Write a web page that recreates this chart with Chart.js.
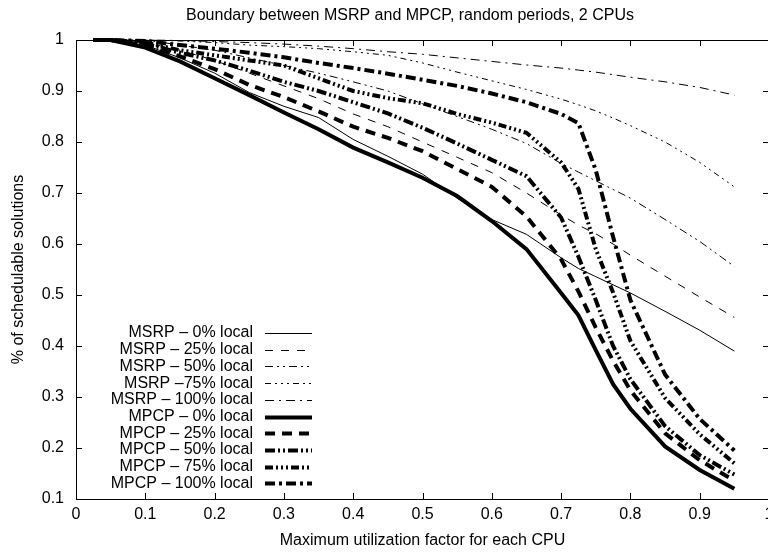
<!DOCTYPE html>
<html>
<head>
<meta charset="utf-8">
<script src="https://cdn.jsdelivr.net/npm/chart.js@4.4.0/dist/chart.umd.min.js"></script>
<style>
  html, body { margin: 0; padding: 0; background: #fff; overflow: hidden; }
  #wrap { width: 800px; height: 552px; }
</style>
</head>
<body>
<div id="wrap"><canvas id="chart"></canvas></div>
<script>
// x values (maximum utilization factor)
const utilization = [0.025, 0.05, 0.1, 0.15, 0.2, 0.25, 0.3, 0.35, 0.4, 0.45, 0.5, 0.55, 0.6, 0.65, 0.7, 0.725, 0.75, 0.775, 0.8, 0.85, 0.9, 0.95];

// MSRP series
const msrp0   = [1, 1, 0.99, 0.965, 0.935, 0.897, 0.87, 0.848, 0.805, 0.772, 0.737, 0.69, 0.648, 0.619, 0.573, 0.552, 0.536, 0.52, 0.504, 0.468, 0.431, 0.39];
const msrp25  = [1, 1, 0.995, 0.98, 0.96, 0.935, 0.91, 0.885, 0.855, 0.83, 0.8, 0.77, 0.74, 0.70, 0.657, 0.637, 0.62, 0.60, 0.578, 0.537, 0.496, 0.456];
const msrp50  = [1, 1, 1, 0.99, 0.98, 0.965, 0.95, 0.935, 0.918, 0.9, 0.875, 0.85, 0.825, 0.797, 0.758, 0.741, 0.724, 0.707, 0.69, 0.648, 0.605, 0.556];
const msrp75  = [1, 1, 1, 0.998, 0.995, 0.99, 0.987, 0.983, 0.977, 0.97, 0.955, 0.937, 0.92, 0.903, 0.884, 0.873, 0.861, 0.847, 0.832, 0.80, 0.76, 0.712];
const msrp100 = [1, 1, 1, 0.999, 0.997, 0.995, 0.992, 0.988, 0.983, 0.977, 0.972, 0.965, 0.958, 0.951, 0.945, 0.941, 0.937, 0.932, 0.927, 0.918, 0.907, 0.892];

// MPCP series
const mpcp0   = [1, 1, 0.985, 0.958, 0.925, 0.892, 0.858, 0.825, 0.789, 0.760, 0.730, 0.694, 0.645, 0.59, 0.504, 0.46, 0.392, 0.325, 0.277, 0.203, 0.157, 0.12];
const mpcp25  = [1, 1, 0.99, 0.968, 0.943, 0.912, 0.888, 0.86, 0.83, 0.808, 0.782, 0.747, 0.712, 0.654, 0.57, 0.507, 0.436, 0.371, 0.313, 0.229, 0.176, 0.136];
const mpcp50  = [1, 1, 0.993, 0.975, 0.96, 0.94, 0.918, 0.90, 0.878, 0.856, 0.828, 0.797, 0.765, 0.733, 0.652, 0.575, 0.49, 0.40, 0.335, 0.243, 0.186, 0.148];
const mpcp75  = [1, 1, 0.995, 0.98, 0.97, 0.96, 0.95, 0.925, 0.90, 0.886, 0.876, 0.855, 0.838, 0.818, 0.76, 0.708, 0.59, 0.505, 0.41, 0.298, 0.227, 0.17];
const mpcp100 = [1, 1, 0.998, 0.99, 0.983, 0.975, 0.966, 0.955, 0.945, 0.934, 0.922, 0.91, 0.895, 0.878, 0.855, 0.837, 0.745, 0.614, 0.49, 0.344, 0.257, 0.195];

const seriesLabels = [
  'MSRP – 0% local', 'MSRP – 25% local', 'MSRP – 50% local', 'MSRP –75% local', 'MSRP – 100% local',
  'MPCP – 0% local', 'MPCP – 25% local', 'MPCP – 50% local', 'MPCP – 75% local', 'MPCP – 100% local'
];
const seriesValues = [msrp0, msrp25, msrp50, msrp75, msrp100, mpcp0, mpcp25, mpcp50, mpcp75, mpcp100];

const TITLE = 'Boundary between MSRP and MPCP, random periods, 2 CPUs';
const FONT = "'Liberation Sans', Arial, Helvetica, sans-serif";
const FONT_SIZE = 16;
const TICK = 6;

// line styles, gnuplot-ish
const STYLES = [
  { width: 1, dash: [] },
  { width: 1, dash: [8, 8] },
  { width: 1, dash: [8, 4, 2, 4, 2, 4] },
  { width: 1, dash: [6, 4, 2, 4, 2, 4, 2, 4] },
  { width: 1, dash: [9, 5, 2, 5] },
  { width: 4, dash: [] },
  { width: 4, dash: [10, 7] },
  { width: 4, dash: [10, 3, 2, 3, 2, 3] },
  { width: 4, dash: [8, 3, 2, 3, 2, 3, 2, 3] },
  { width: 4, dash: [10, 4, 3, 4] }
];

const datasets = seriesValues.map((vals, i) => ({
  label: seriesLabels[i],
  data: utilization.map((x, j) => ({ x: x, y: vals[j] })),
  borderColor: '#000',
  borderWidth: STYLES[i].width,
  borderDash: STYLES[i].dash,
  borderCapStyle: 'butt',
  pointRadius: 0,
  tension: 0,
  fill: false,
  clip: 6
}));

// border box, inward ticks and title
const framePlugin = {
  id: 'frame',
  beforeDatasetsDraw(chart) {
    const { ctx, chartArea: a, scales } = chart;
    ctx.save();
    ctx.strokeStyle = '#000';
    ctx.lineWidth = 1;
    ctx.beginPath();
    scales.x.ticks.forEach(t => {
      const px = Math.round(scales.x.getPixelForValue(t.value)) + 0.5;
      ctx.moveTo(px, a.bottom); ctx.lineTo(px, a.bottom - TICK);
      ctx.moveTo(px, a.top); ctx.lineTo(px, a.top + TICK);
    });
    scales.y.ticks.forEach(t => {
      const py = Math.round(scales.y.getPixelForValue(t.value)) + 0.5;
      ctx.moveTo(a.left, py); ctx.lineTo(a.left + TICK, py);
      ctx.moveTo(a.right, py); ctx.lineTo(a.right - TICK, py);
    });
    ctx.stroke();
    ctx.strokeRect(a.left + 0.5, a.top + 0.5, a.right - a.left, a.bottom - a.top);

    ctx.fillStyle = '#000';
    ctx.font = FONT_SIZE + 'px ' + FONT;
    ctx.textAlign = 'center';
    ctx.textBaseline = 'middle';
    ctx.fillText(TITLE, 410, 16);
    ctx.restore();
  },
  // gnuplot-style key: right-aligned text followed by the line sample
  afterDraw(chart) {
    const { ctx } = chart;
    ctx.save();
    ctx.font = FONT_SIZE + 'px ' + FONT;
    ctx.textAlign = 'right';
    ctx.textBaseline = 'middle';
    ctx.fillStyle = '#000';
    chart.data.datasets.forEach((ds, i) => {
      const y = 333 + i * 16.7;
      ctx.fillText(ds.label, 253, y);
      ctx.beginPath();
      ctx.strokeStyle = ds.borderColor;
      ctx.lineWidth = ds.borderWidth;
      ctx.setLineDash(ds.borderDash);
      ctx.moveTo(265, Math.round(y) + 0.5);
      ctx.lineTo(312, Math.round(y) + 0.5);
      ctx.stroke();
    });
    ctx.restore();
  }
};

Chart.defaults.font.family = FONT;
Chart.defaults.font.size = FONT_SIZE;
Chart.defaults.color = '#000';

new Chart(document.getElementById('chart'), {
  type: 'line',
  data: { datasets: datasets },
  options: {
    responsive: true,
    maintainAspectRatio: false,
    animation: false,
    layout: { padding: { left: 0, right: 31, top: 40, bottom: 0 } },
    plugins: {
      legend: { display: false },
      tooltip: { enabled: false }
    },
    scales: {
      x: {
        type: 'linear',
        min: 0, max: 1,
        afterFit: s => { s.height = 53; },
        grid: { display: false, drawTicks: false },
        border: { display: false },
        ticks: { stepSize: 0.1, padding: 6, maxRotation: 0, autoSkip: false,
                 callback: v => +v.toFixed(1) },
        title: { display: true, text: 'Maximum utilization factor for each CPU', padding: { top: 0, bottom: 2 } }
      },
      y: {
        type: 'linear',
        min: 0.1, max: 1,
        afterFit: s => { s.width = 76; },
        grid: { display: false, drawTicks: false },
        border: { display: false },
        ticks: { stepSize: 0.1, padding: 12, autoSkip: false,
                 callback: v => +v.toFixed(1) },
        title: { display: true, text: '% of schedulable solutions', padding: { top: 9, bottom: 0 } }
      }
    }
  },
  plugins: [framePlugin]
});
</script>
</body>
</html>
